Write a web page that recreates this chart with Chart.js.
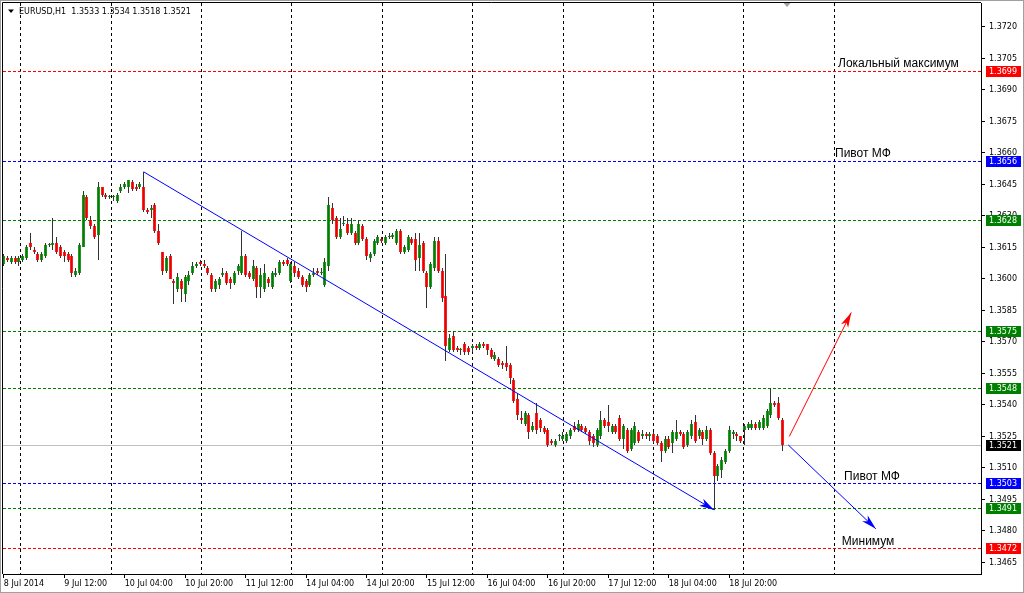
<!DOCTYPE html>
<html>
<head>
<meta charset="utf-8">
<script src="https://cdn.jsdelivr.net/npm/chart.js@4.4.0/dist/chart.umd.min.js"></script>
<style>
  html, body { margin: 0; padding: 0; background: #fff; }
  #wrap { position: relative; width: 1024px; height: 593px; }
</style>
</head>
<body>
<div id="wrap"><canvas id="c" width="1024" height="593"></canvas></div>
<script>
/* ── EURUSD H1 bars, oldest first ───────────────────────── */
const opens = [
  1.3607,1.3610,1.3608,1.3610,1.3608,1.3609,1.3610,1.3617,1.3614,1.3612,
  1.3609,1.3611,1.3616,1.3616,1.3617,1.3615,1.3613,1.3612,1.3611,1.3602,
  1.3603,1.3615,1.3639,1.3628,1.3625,1.3621,1.3644,1.3640,1.3639,1.3639,
  1.3637,1.3642,1.3644,1.3644,1.3646,1.3644,1.3644,1.3644,1.3633,1.3633,
  1.3635,1.3623,1.3613,1.3604,1.3611,1.3599,1.3595,1.3599,1.3593,1.3599,
  1.3603,1.3606,1.3608,1.3607,1.3605,1.3602,1.3595,1.3597,1.3602,1.3603,
  1.3600,1.3598,1.3604,1.3603,1.3611,1.3603,1.3600,1.3605,1.3596,1.3595,
  1.3600,1.3596,1.3602,1.3603,1.3608,1.3609,1.3599,1.3606,1.3604,1.3601,
  1.3599,1.3597,1.3602,1.3604,1.3603,1.3597,1.3606,1.3634,1.3629,1.3620,
  1.3626,1.3626,1.3622,1.3622,1.3617,1.3625,1.3619,1.3610,1.3612,1.3617,
  1.3619,1.3617,1.3620,1.3620,1.3617,1.3623,1.3613,1.3614,1.3619,1.3619,
  1.3610,1.3617,1.3603,1.3596,1.3605,1.3618,1.3604,1.3592,1.3566,1.3573,
  1.3567,1.3566,1.3569,1.3567,1.3567,1.3568,1.3567,1.3569,1.3569,1.3566,
  1.3562,1.3562,1.3560,1.3560,1.3559,1.3552,1.3543,1.3534,1.3531,1.3535,
  1.3528,1.3536,1.3533,1.3529,1.3528,1.3523,1.3521,1.3525,1.3524,1.3523,
  1.3525,1.3530,1.3528,1.3530,1.3529,1.3527,1.3525,1.3521,1.3525,1.3533,
  1.3532,1.3527,1.3530,1.3534,1.3524,1.3528,1.3519,1.3522,1.3527,1.3525,
  1.3526,1.3525,1.3526,1.3525,1.3522,1.3518,1.3524,1.3522,1.3524,1.3527,
  1.3526,1.3521,1.3525,1.3532,1.3525,1.3527,1.3524,1.3528,1.3517,1.3506,
  1.3509,1.3513,1.3518,1.3526,1.3526,1.3525,1.3528,1.3529,1.3529,1.3531,
  1.3529,1.3529,1.3530,1.3535,1.3541,1.3541,1.3533
];
const highs = [
  1.3612,1.3611,1.3611,1.3611,1.3611,1.3612,1.3616,1.3622,1.3615,1.3613,
  1.3613,1.3617,1.3617,1.3629,1.3620,1.3616,1.3614,1.3613,1.3612,1.3605,
  1.3617,1.3642,1.3640,1.3630,1.3626,1.3646,1.3644,1.3641,1.3640,1.3640,
  1.3641,1.3645,1.3646,1.3647,1.3647,1.3645,1.3646,1.3651,1.3634,1.3635,
  1.3636,1.3626,1.3613,1.3611,1.3612,1.3600,1.3603,1.3600,1.3602,1.3604,
  1.3608,1.3608,1.3609,1.3609,1.3606,1.3603,1.3600,1.3601,1.3605,1.3604,
  1.3601,1.3604,1.3607,1.3623,1.3612,1.3604,1.3609,1.3606,1.3605,1.3607,
  1.3601,1.3604,1.3605,1.3609,1.3609,1.3610,1.3608,1.3608,1.3605,1.3602,
  1.3600,1.3603,1.3605,1.3605,1.3605,1.3610,1.3639,1.3636,1.3630,1.3629,
  1.3630,1.3629,1.3629,1.3623,1.3628,1.3626,1.3620,1.3613,1.3619,1.3621,
  1.3620,1.3621,1.3622,1.3622,1.3624,1.3624,1.3616,1.3621,1.3620,1.3622,
  1.3622,1.3618,1.3604,1.3608,1.3620,1.3620,1.3605,1.3612,1.3574,1.3575,
  1.3568,1.3567,1.3570,1.3568,1.3569,1.3569,1.3570,1.3570,1.3569,1.3567,
  1.3565,1.3563,1.3561,1.3568,1.3560,1.3553,1.3545,1.3537,1.3537,1.3536,
  1.3532,1.3541,1.3534,1.3530,1.3529,1.3524,1.3524,1.3526,1.3527,1.3527,
  1.3529,1.3532,1.3533,1.3531,1.3530,1.3528,1.3526,1.3529,1.3537,1.3534,
  1.3540,1.3531,1.3531,1.3535,1.3531,1.3529,1.3529,1.3532,1.3528,1.3528,
  1.3527,1.3527,1.3527,1.3526,1.3523,1.3525,1.3525,1.3528,1.3533,1.3528,
  1.3527,1.3528,1.3533,1.3535,1.3529,1.3528,1.3530,1.3529,1.3518,1.3512,
  1.3515,1.3519,1.3530,1.3528,1.3527,1.3525,1.3531,1.3532,1.3533,1.3532,
  1.3533,1.3535,1.3538,1.3548,1.3542,1.3544,1.3534
];
const lows = [
  1.3606,1.3608,1.3607,1.3607,1.3606,1.3608,1.3609,1.3614,1.3612,1.3608,
  1.3608,1.3610,1.3615,1.3614,1.3612,1.3610,1.3608,1.3608,1.3601,1.3601,
  1.3602,1.3615,1.3628,1.3624,1.3619,1.3609,1.3639,1.3638,1.3638,1.3637,
  1.3636,1.3641,1.3643,1.3641,1.3642,1.3642,1.3643,1.3632,1.3631,1.3629,
  1.3622,1.3616,1.3602,1.3603,1.3600,1.3588,1.3594,1.3589,1.3589,1.3597,
  1.3602,1.3605,1.3606,1.3605,1.3602,1.3594,1.3594,1.3595,1.3601,1.3597,
  1.3595,1.3597,1.3602,1.3602,1.3601,1.3600,1.3599,1.3591,1.3591,1.3594,
  1.3596,1.3595,1.3601,1.3602,1.3606,1.3606,1.3598,1.3601,1.3600,1.3596,
  1.3594,1.3596,1.3601,1.3602,1.3602,1.3596,1.3604,1.3626,1.3619,1.3619,
  1.3625,1.3621,1.3621,1.3616,1.3616,1.3618,1.3609,1.3608,1.3611,1.3616,
  1.3617,1.3616,1.3619,1.3619,1.3616,1.3612,1.3612,1.3613,1.3616,1.3604,
  1.3604,1.3603,1.3586,1.3595,1.3604,1.3603,1.3589,1.3561,1.3565,1.3565,
  1.3565,1.3564,1.3564,1.3564,1.3565,1.3566,1.3566,1.3567,1.3564,1.3562,
  1.3561,1.3558,1.3557,1.3556,1.3550,1.3541,1.3533,1.3531,1.3530,1.3524,
  1.3527,1.3526,1.3527,1.3526,1.3520,1.3521,1.3520,1.3523,1.3523,1.3522,
  1.3524,1.3527,1.3527,1.3527,1.3526,1.3521,1.3520,1.3520,1.3524,1.3529,
  1.3527,1.3526,1.3526,1.3523,1.3519,1.3517,1.3518,1.3521,1.3522,1.3524,
  1.3524,1.3523,1.3522,1.3521,1.3513,1.3517,1.3519,1.3517,1.3523,1.3525,
  1.3519,1.3520,1.3524,1.3522,1.3524,1.3521,1.3523,1.3516,1.3490,1.3504,
  1.3505,1.3512,1.3517,1.3524,1.3523,1.3522,1.3521,1.3528,1.3528,1.3528,
  1.3528,1.3528,1.3529,1.3534,1.3539,1.3533,1.3518
];
const closes = [
  1.3611,1.3609,1.3610,1.3608,1.3610,1.3611,1.3615,1.3615,1.3613,1.3609,
  1.3612,1.3616,1.3616,1.3617,1.3613,1.3611,1.3611,1.3609,1.3603,1.3604,
  1.3616,1.3640,1.3629,1.3625,1.3620,1.3644,1.3640,1.3639,1.3639,1.3639,
  1.3640,1.3644,1.3645,1.3647,1.3643,1.3643,1.3645,1.3633,1.3632,1.3634,
  1.3623,1.3617,1.3604,1.3610,1.3600,1.3598,1.3601,1.3595,1.3601,1.3602,
  1.3606,1.3607,1.3607,1.3606,1.3603,1.3595,1.3599,1.3600,1.3603,1.3598,
  1.3598,1.3603,1.3606,1.3611,1.3602,1.3601,1.3606,1.3596,1.3602,1.3603,
  1.3598,1.3603,1.3603,1.3608,1.3607,1.3607,1.3607,1.3603,1.3601,1.3597,
  1.3596,1.3602,1.3603,1.3603,1.3603,1.3608,1.3635,1.3628,1.3620,1.3624,
  1.3626,1.3622,1.3626,1.3617,1.3626,1.3619,1.3611,1.3612,1.3618,1.3620,
  1.3618,1.3620,1.3620,1.3621,1.3623,1.3613,1.3615,1.3620,1.3617,1.3609,
  1.3616,1.3604,1.3596,1.3607,1.3618,1.3604,1.3591,1.3568,1.3572,1.3566,
  1.3566,1.3566,1.3565,1.3565,1.3568,1.3567,1.3569,1.3568,1.3566,1.3563,
  1.3564,1.3559,1.3559,1.3558,1.3553,1.3542,1.3535,1.3533,1.3536,1.3527,
  1.3530,1.3528,1.3529,1.3527,1.3521,1.3522,1.3523,1.3525,1.3525,1.3526,
  1.3528,1.3528,1.3531,1.3528,1.3527,1.3523,1.3522,1.3528,1.3533,1.3530,
  1.3530,1.3530,1.3527,1.3524,1.3530,1.3518,1.3528,1.3530,1.3523,1.3526,
  1.3525,1.3526,1.3523,1.3522,1.3518,1.3524,1.3520,1.3527,1.3527,1.3526,
  1.3520,1.3527,1.3531,1.3523,1.3528,1.3524,1.3528,1.3517,1.3506,1.3511,
  1.3514,1.3518,1.3528,1.3527,1.3525,1.3523,1.3530,1.3531,1.3531,1.3529,
  1.3532,1.3534,1.3537,1.3541,1.3540,1.3534,1.3521
];

/* ── axes ─────────────────────────────────────────────── */
const timeIdx    = [0, 16, 32, 48, 64, 80, 96, 112, 128, 144, 160, 176, 192];
const timeLabels = ['8 Jul 2014', '9 Jul 12:00', '10 Jul 04:00', '10 Jul 20:00', '11 Jul 12:00',
                    '14 Jul 04:00', '14 Jul 20:00', '15 Jul 12:00', '16 Jul 04:00', '16 Jul 20:00',
                    '17 Jul 12:00', '18 Jul 04:00', '18 Jul 20:00'];
const gridIdx    = [4.46, 28.39, 52.31, 76.24, 100.17, 124.10, 148.03, 171.96, 195.88, 219.81];
const priceTicks = [1.3465, 1.3480, 1.3495, 1.3510, 1.3525, 1.3540, 1.3555, 1.3570, 1.3585, 1.3600,
                    1.3615, 1.3630, 1.3645, 1.3660, 1.3675, 1.3690, 1.3705, 1.3720];

/* ── drawn objects ────────────────────────────────────── */
const levelPrices = [1.3699, 1.3656, 1.3628, 1.3575, 1.3548, 1.3521, 1.3503, 1.3491, 1.3472];
const trendFrom   = [[37, 1.3651], [207.6, 1.3521], [207.9, 1.3525]];
const trendTo     = [[188, 1.3490], [230.8, 1.3481], [224.3, 1.3584]];
const noteText    = ['Локальный максимум', 'Пивот МФ', 'Пивот МФ', 'Минимум'];
const noteAt      = [[220.8, 1.37009], [220.0, 1.36580], [222.4, 1.35042], [221.8, 1.34733]];

/* ── styles ───────────────────────────────────────────── */
const X_MIN = -0.225, X_MAX = 258.64, Y_MIN = 1.34595, Y_MAX = 1.37314;
const BULL = '#008000', BEAR = '#ee0000', WICK = '#333333';
const DOT = [3, 2];
const levelLine = ['#ff0000', '#0000ff', '#008000', '#008000', '#008000', '#c0c0c0', '#0000ff', '#008000', '#ff0000'];
const levelBox  = ['#ff0000', '#0000ff', '#008000', '#008000', '#008000', '#000000', '#0000ff', '#008000', '#ff0000'];
const levelDash = [DOT, DOT, DOT, DOT, DOT, [], DOT, DOT, DOT];
const trendColor = ['#0000ff', '#0000ff', '#ff0000'];
const FONT = { family: 'DejaVu Sans', size: 8 };

Chart.defaults.font.family = 'DejaVu Sans';

const wickData = lows.map((l, i) => ({ x: i, y: [l, highs[i]] }));
const bodyData = opens.map((o, i) => ({ x: i, y: [o, closes[i]] }));
const isBull = i => closes[i] >= opens[i];

const trendSets = trendFrom.map((p, k) => ({
  type: 'line',
  data: [{ x: p[0], y: p[1] }, { x: trendTo[k][0], y: trendTo[k][1] }],
  borderColor: trendColor[k], borderWidth: 1, pointRadius: 0,
  order: -1, arrow: true
}));

const noPadV = s => { s.paddingTop = 0; s.paddingBottom = 0; };
const noPadH = s => { s.paddingLeft = 0; s.paddingRight = 0; };

/* snap candle rectangles to whole pixels */
const snapPlugin = {
  id: 'snap',
  afterDatasetsUpdate(chart) {
    chart.data.datasets.forEach((ds, k) => {
      if (!ds.snap) return;
      chart.getDatasetMeta(k).data.forEach(el => {
        el.x = Math.floor(el.x) + 0.5;
        el.y = Math.round(el.y);
        el.base = Math.round(el.base);
        if (Math.abs(el.y - el.base) < 1) el.y = el.base - 1;
      });
    });
  }
};

/* horizontal price levels with their axis labels */
const levelPlugin = {
  id: 'levels',
  beforeDatasetsDraw(chart) {
    const c = chart.ctx, a = chart.chartArea, ys = chart.scales.y;
    c.save();
    c.lineWidth = 1;
    levelPrices.forEach((p, k) => {
      const y = Math.round(ys.getPixelForValue(p)) + 0.5;
      c.strokeStyle = levelLine[k];
      c.setLineDash(levelDash[k]);
      c.beginPath();
      c.moveTo(a.left, y);
      c.lineTo(a.right, y);
      c.stroke();
    });
    c.restore();
  },
  afterDraw(chart) {
    const c = chart.ctx, a = chart.chartArea, ys = chart.scales.y;
    c.save();
    c.font = '8px "DejaVu Sans"';
    c.textBaseline = 'middle';
    c.textAlign = 'left';
    levelPrices.forEach((p, k) => {
      const y = Math.round(ys.getPixelForValue(p));
      c.fillStyle = levelBox[k];
      c.fillRect(a.right + 5, y - 5, 35, 11);
      c.fillStyle = '#fff';
      c.fillText(p.toFixed(4), a.right + 8, y + 0.5);
    });
    c.restore();
  }
};

const decorPlugin = {
  id: 'decor',
  beforeDraw(chart) {
    const c = chart.ctx;
    c.save();
    c.fillStyle = '#fff';
    c.fillRect(0, 0, chart.width, chart.height);
    c.strokeStyle = '#a0a0a0';
    c.lineWidth = 1;
    c.strokeRect(0.5, 0.5, chart.width - 1, chart.height - 1);
    c.restore();
  },
  afterDraw(chart) {
    const c = chart.ctx, a = chart.chartArea;
    const xs = chart.scales.x, ys = chart.scales.y;
    c.save();
    // frame left/top
    c.strokeStyle = '#000';
    c.lineWidth = 1;
    c.beginPath();
    c.moveTo(a.left - 0.5, a.bottom);
    c.lineTo(a.left - 0.5, a.top - 0.5);
    c.lineTo(a.right, a.top - 0.5);
    c.stroke();

    // arrow heads
    chart.data.datasets.forEach((ds, k) => {
      if (!ds.arrow) return;
      const pts = chart.getDatasetMeta(k).data;
      const p0 = pts[0], p1 = pts[1];
      const dx = p1.x - p0.x, dy = p1.y - p0.y, len = Math.hypot(dx, dy);
      const ux = dx / len, uy = dy / len, nx = -uy, ny = ux;
      const L = 15, W = 4, N = 4;
      c.fillStyle = ds.borderColor;
      c.beginPath();
      c.moveTo(p1.x, p1.y);
      c.lineTo(p1.x - ux * L + nx * W, p1.y - uy * L + ny * W);
      c.lineTo(p1.x - ux * (L - N), p1.y - uy * (L - N));
      c.lineTo(p1.x - ux * L - nx * W, p1.y - uy * L - ny * W);
      c.closePath();
      c.fill();
    });

    // text objects
    c.fillStyle = '#000';
    c.font = '12px "Liberation Sans", Arial, sans-serif';
    c.textBaseline = 'alphabetic';
    c.textAlign = 'left';
    noteText.forEach((t, k) => {
      c.fillText(t, xs.getPixelForValue(noteAt[k][0]), ys.getPixelForValue(noteAt[k][1]));
    });

    // symbol caption
    c.beginPath();
    c.moveTo(8, 9.5); c.lineTo(14, 9.5); c.lineTo(11, 13);
    c.closePath();
    c.fill();
    c.font = '8px "DejaVu Sans"';
    c.textBaseline = 'middle';
    c.fillText('EURUSD,H1  1.3533 1.3534 1.3518 1.3521', 19, 11.5);

    // chart shift marker
    const sx = xs.getPixelForValue(207.3);
    c.fillStyle = '#a0a0a0';
    c.beginPath();
    c.moveTo(sx - 3.5, a.top); c.lineTo(sx + 3.5, a.top); c.lineTo(sx, a.top + 4);
    c.closePath();
    c.fill();
    c.restore();
  }
};

new Chart(document.getElementById('c'), {
  type: 'bar',
  data: {
    datasets: [
      {
        data: bodyData, grouped: false, maxBarThickness: 3, minBarLength: 1,
        backgroundColor: ctx => isBull(ctx.dataIndex) ? BULL : BEAR,
        borderWidth: 0, inflateAmount: 0, order: 0, snap: true
      },
      {
        data: wickData, grouped: false, maxBarThickness: 1,
        backgroundColor: WICK, borderWidth: 0, inflateAmount: 0, order: 1, snap: true
      },
      ...trendSets
    ]
  },
  options: {
    responsive: false,
    animation: false,
    events: [],
    layout: { padding: { left: 3, top: 3, right: 0, bottom: 0 } },
    plugins: { legend: { display: false }, tooltip: { enabled: false } },
    scales: {
      x: {
        type: 'linear', position: 'bottom', min: X_MIN, max: X_MAX, offset: false,
        afterBuildTicks: s => { s.ticks = timeIdx.map(v => ({ value: v })); },
        afterFit: s => { s.height = 19; noPadH(s); },
        ticks: {
          autoSkip: false, maxRotation: 0, align: 'start', padding: 1,
          color: '#000', font: FONT,
          callback: v => timeLabels[timeIdx.indexOf(v)]
        },
        grid: { offset: false, drawOnChartArea: false, tickLength: 4, color: '#000' },
        border: { color: '#000' }
      },
      xg: {
        type: 'linear', position: 'bottom', min: X_MIN, max: X_MAX, offset: false, weight: -1,
        afterBuildTicks: s => { s.ticks = gridIdx.map(v => ({ value: v })); },
        afterFit: s => { s.height = 0; noPadH(s); },
        ticks: { display: false },
        grid: { offset: false, color: '#000', drawTicks: false },
        border: { display: false, dash: [3, 3] }
      },
      y: {
        type: 'linear', position: 'right', min: Y_MIN, max: Y_MAX,
        afterBuildTicks: s => { s.ticks = priceTicks.map(v => ({ value: v })); },
        afterFit: s => { s.width = 43; noPadV(s); },
        ticks: { padding: 4, color: '#000', font: FONT, callback: v => v.toFixed(4) },
        grid: { drawOnChartArea: false, tickLength: 4, color: '#000' },
        border: { color: '#000' }
      }
    }
  },
  plugins: [snapPlugin, levelPlugin, decorPlugin]
});
</script>
</body>
</html>
